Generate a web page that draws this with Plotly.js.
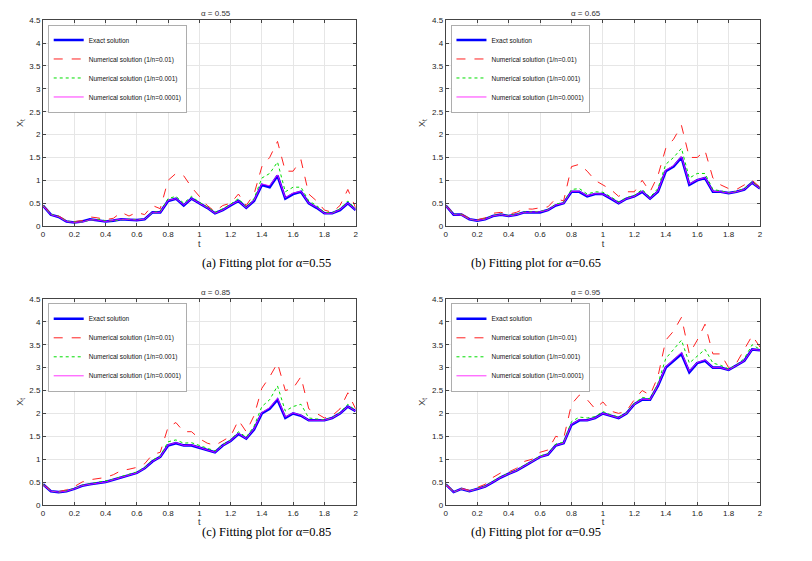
<!DOCTYPE html>
<html>
<head>
<meta charset="utf-8">
<script src="https://cdn.plot.ly/plotly-3.0.1.min.js"></script>
<style>html,body{margin:0;padding:0;background:#fff}#chart{width:812px;height:561px}</style>
</head>
<body>
<div id="chart"></div>
<script>
// time grid, step 0.05
var t = [];
for (var i = 0; i <= 40; i++) t.push(+(i * 0.05).toFixed(2));

var alphas = ['0.55', '0.65', '0.85', '0.95'];
var seriesNames = ['Exact solution', 'Numerical solution (1/n=0.01)', 'Numerical solution (1/n=0.001)', 'Numerical solution (1/n=0.0001)'];

// alpha = 0.55
var exactA = [0.45,0.25,0.2,0.1,0.08,0.1,0.15,0.13,0.1,0.12,0.15,0.14,0.13,0.15,0.3,0.3,0.55,0.6,0.45,0.6,0.5,0.4,0.28,0.35,0.45,0.55,0.4,0.55,0.9,0.85,1.1,0.6,0.7,0.75,0.5,0.4,0.28,0.28,0.35,0.5,0.35];
var n01A = [0.45,0.28,0.22,0.12,0.1,0.12,0.2,0.18,0.14,0.17,0.3,0.22,0.3,0.25,0.45,0.38,1.0,1.15,1.1,0.85,0.65,0.45,0.32,0.45,0.5,0.7,0.45,0.7,1.3,1.5,1.85,1.2,1.2,1.45,0.7,0.55,0.35,0.3,0.45,0.8,0.4];
var n001A = [0.45,0.26,0.21,0.11,0.09,0.09,0.13,0.15,0.12,0.11,0.14,0.15,0.14,0.15,0.3,0.32,0.6,0.65,0.5,0.65,0.52,0.42,0.3,0.38,0.48,0.6,0.42,0.6,1.05,1.15,1.4,0.75,0.85,0.85,0.55,0.45,0.3,0.29,0.38,0.55,0.37];
var n0001A = [0.44,0.25,0.2,0.1,0.08,0.09,0.14,0.13,0.1,0.12,0.15,0.14,0.13,0.15,0.3,0.3,0.56,0.6,0.46,0.6,0.5,0.4,0.28,0.35,0.46,0.55,0.4,0.56,0.92,0.88,1.12,0.62,0.72,0.76,0.5,0.41,0.28,0.28,0.36,0.5,0.35];

// alpha = 0.65
var exactB = [0.45,0.25,0.25,0.15,0.12,0.15,0.22,0.25,0.22,0.25,0.3,0.3,0.3,0.35,0.45,0.5,0.75,0.75,0.65,0.7,0.7,0.6,0.5,0.6,0.65,0.75,0.6,0.75,1.2,1.3,1.5,0.9,1.0,1.05,0.75,0.75,0.72,0.75,0.8,0.95,0.82];
var n01B = [0.45,0.28,0.26,0.17,0.14,0.18,0.28,0.3,0.26,0.3,0.38,0.37,0.4,0.42,0.6,0.55,1.3,1.35,1.2,1.0,0.9,0.8,0.65,0.75,0.75,1.0,0.75,1.1,1.7,1.9,2.2,1.5,1.5,1.65,1.05,0.9,0.82,0.8,0.9,1.0,0.85];
var n001B = [0.45,0.26,0.25,0.15,0.12,0.16,0.23,0.26,0.23,0.26,0.31,0.31,0.32,0.36,0.48,0.52,0.8,0.82,0.7,0.75,0.74,0.64,0.53,0.62,0.67,0.8,0.63,0.82,1.35,1.5,1.7,1.05,1.15,1.15,0.8,0.77,0.73,0.76,0.82,0.97,0.83];
var n0001B = [0.44,0.25,0.24,0.15,0.12,0.15,0.22,0.25,0.22,0.25,0.3,0.3,0.31,0.35,0.46,0.5,0.76,0.76,0.66,0.71,0.7,0.61,0.5,0.6,0.65,0.76,0.6,0.76,1.22,1.32,1.52,0.92,1.01,1.06,0.76,0.75,0.72,0.75,0.8,0.95,0.82];

// alpha = 0.85
var exactC = [0.45,0.3,0.28,0.3,0.35,0.42,0.45,0.48,0.5,0.55,0.6,0.65,0.7,0.8,0.95,1.05,1.3,1.35,1.3,1.3,1.25,1.2,1.15,1.3,1.4,1.55,1.45,1.65,2.0,2.1,2.3,1.9,2.0,1.95,1.85,1.85,1.85,1.9,2.0,2.15,2.05];
var n01C = [0.45,0.32,0.29,0.33,0.4,0.5,0.55,0.58,0.6,0.66,0.75,0.78,0.82,0.9,1.1,1.15,1.7,1.8,1.6,1.6,1.45,1.35,1.3,1.4,1.5,1.85,1.6,1.95,2.55,2.8,3.1,2.5,2.55,2.8,2.1,2.0,1.9,1.95,2.1,2.45,2.1];
var n001C = [0.45,0.3,0.28,0.31,0.36,0.43,0.46,0.49,0.52,0.56,0.62,0.67,0.72,0.82,0.98,1.07,1.38,1.42,1.35,1.36,1.3,1.23,1.18,1.32,1.42,1.6,1.48,1.72,2.15,2.3,2.6,2.05,2.15,2.2,1.9,1.88,1.86,1.91,2.02,2.2,2.06];
var n0001C = [0.44,0.3,0.28,0.3,0.35,0.42,0.45,0.48,0.5,0.55,0.6,0.65,0.7,0.8,0.95,1.05,1.31,1.36,1.3,1.31,1.25,1.2,1.15,1.3,1.4,1.56,1.45,1.66,2.02,2.12,2.33,1.92,2.01,1.96,1.85,1.85,1.85,1.9,2.0,2.15,2.05];

// alpha = 0.95
var exactD = [0.45,0.28,0.35,0.3,0.35,0.4,0.5,0.6,0.68,0.75,0.85,0.95,1.05,1.1,1.3,1.35,1.75,1.85,1.85,1.9,2.0,1.95,1.9,2.0,2.2,2.3,2.3,2.6,3.0,3.15,3.3,2.9,3.1,3.15,3.0,3.0,2.95,3.05,3.15,3.4,3.38];
var n01D = [0.45,0.3,0.36,0.32,0.38,0.45,0.6,0.7,0.72,0.8,0.95,1.0,1.15,1.2,1.5,1.45,2.2,2.4,2.3,2.1,2.25,2.05,2.0,2.05,2.3,2.5,2.4,2.8,3.6,3.8,4.1,3.3,3.6,3.95,3.3,3.3,3.0,3.1,3.4,3.7,3.45];
var n001D = [0.45,0.28,0.35,0.3,0.36,0.41,0.52,0.62,0.69,0.76,0.87,0.96,1.07,1.12,1.33,1.37,1.82,1.92,1.9,1.93,2.04,1.97,1.92,2.01,2.22,2.35,2.32,2.65,3.2,3.4,3.6,3.1,3.25,3.4,3.1,3.05,2.97,3.06,3.2,3.5,3.4];
var n0001D = [0.44,0.28,0.35,0.3,0.35,0.4,0.5,0.6,0.68,0.75,0.85,0.95,1.05,1.1,1.3,1.35,1.76,1.86,1.85,1.9,2.0,1.95,1.9,2.0,2.2,2.31,2.3,2.61,3.02,3.17,3.33,2.92,3.11,3.17,3.0,3.0,2.95,3.05,3.15,3.4,3.38];

var panels = [
  [exactA, n01A, n001A, n0001A],
  [exactB, n01B, n001B, n0001B],
  [exactC, n01C, n001C, n0001C],
  [exactD, n01D, n001D, n0001D]
];
var captions = ['(a) Fitting plot for α=0.55', '(b) Fitting plot for α=0.65', '(c) Fitting plot for α=0.85', '(d) Fitting plot for α=0.95'];

var lineStyles = [
  { color: '#0000ff', width: 2.6 },
  { color: '#ff2020', width: 1, dash: 'dash' },
  { color: '#00dd00', width: 1, dash: 'dot' },
  { color: '#ff00ff', width: 0.8 }
];

var xDom = [[0.053, 0.438], [0.549, 0.936]];
var yDom = [[0.597, 0.964], [0.100, 0.467]];

var traces = [];
var layout = {
  width: 812, height: 561,
  margin: { l: 0, r: 0, t: 0, b: 0 },
  paper_bgcolor: '#fff', plot_bgcolor: '#fff',
  font: { family: 'Liberation Sans, Arial, sans-serif', size: 8, color: '#333' },
  annotations: []
};

panels.forEach(function (series, p) {
  var k = p + 1;
  var ax = k === 1 ? '' : String(k);
  var col = p % 2, row = Math.floor(p / 2);
  var legName = k === 1 ? 'legend' : 'legend' + k;

  series.forEach(function (ys, s) {
    traces.push({
      type: 'scatter', mode: 'lines', x: t, y: ys,
      name: seriesNames[s], line: lineStyles[s],
      xaxis: 'x' + ax, yaxis: 'y' + ax, legend: legName
    });
  });

  layout['xaxis' + ax] = {
    domain: xDom[col], anchor: 'y' + ax, range: [0, 2], dtick: 0.2,
    showgrid: true, gridcolor: '#e6e6e6', zeroline: false,
    showline: true, linecolor: '#444', mirror: 'ticks', ticks: 'inside', ticklen: 3,
    tickfont: { size: 8, color: '#222' },
    title: { text: 't', font: { size: 9 }, standoff: 2 }
  };
  layout['yaxis' + ax] = {
    domain: yDom[row], anchor: 'x' + ax, range: [0, 4.5], dtick: 0.5,
    showgrid: true, gridcolor: '#e6e6e6', zeroline: false,
    showline: true, linecolor: '#444', mirror: 'ticks', ticks: 'inside', ticklen: 3,
    tickfont: { size: 8, color: '#222' },
    title: { text: 'X<sub>t</sub>', font: { size: 9 }, standoff: 4 }
  };
  layout[legName] = {
    x: xDom[col][0] + 0.006, y: yDom[row][1] - 0.008, xanchor: 'left', yanchor: 'top',
    bgcolor: '#fff', bordercolor: '#999', borderwidth: 0.8,
    font: { size: 6.5, color: '#111' }, tracegroupgap: 0, itemwidth: 30
  };

  layout.annotations.push({
    xref: 'paper', yref: 'paper', x: (xDom[col][0] + xDom[col][1]) / 2, y: yDom[row][1],
    yanchor: 'bottom', text: 'α = ' + alphas[p], showarrow: false, font: { size: 8, color: '#333' }
  });
  layout.annotations.push({
    xref: 'paper', yref: 'paper', x: col === 0 ? 200 / 812 : 603 / 812,
    y: row === 0 ? 1 - 263 / 561 : 1 - 541 / 561,
    text: captions[p], showarrow: false,
    font: { family: 'Liberation Serif, serif', size: 12.5, color: '#000' }
  });
});

Plotly.newPlot('chart', traces, layout, { displayModeBar: false, staticPlot: true });
</script>
</body>
</html>
